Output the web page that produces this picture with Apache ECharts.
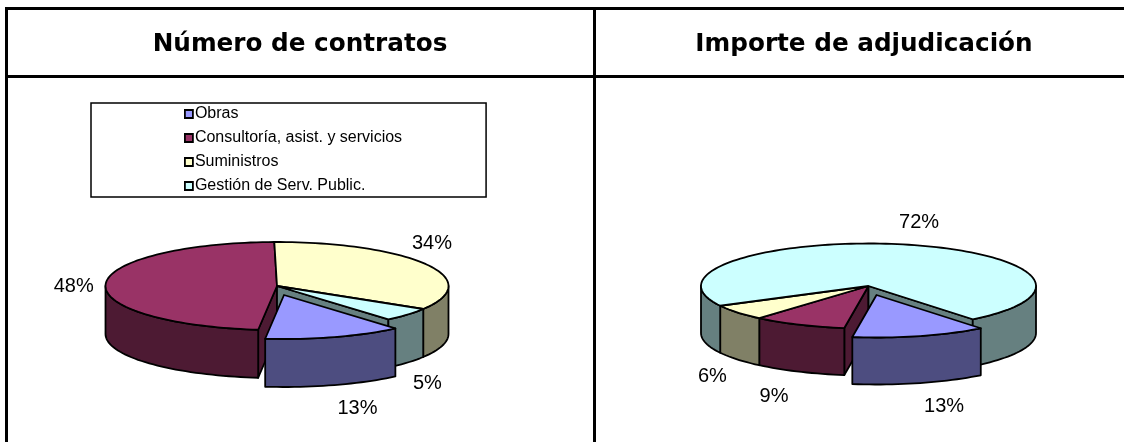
<!DOCTYPE html>
<html>
<head>
<meta charset="utf-8">
<style>html,body{margin:0;padding:0;background:#fff}#c{width:1124px;height:442px}</style>
<script src="https://cdn.jsdelivr.net/npm/echarts@6/dist/echarts.min.js"></script>
</head>
<body>
<div id="c"></div>
<script>
var categories = ['Obras', 'Consultoría, asist. y servicios', 'Suministros', 'Gestión de Serv. Public.'];
var contractShares = [13, 48, 34, 5];
var amountShares = [13, 9, 6, 72];
var panelTitles = ['Número de contratos', 'Importe de adjudicación'];

var topColors = ['#9999FF', '#993366', '#FFFFCC', '#CCFFFF'];
var sideColors = ['#4D4D80', '#4D1A33', '#808066', '#668080'];

var panelShares = [contractShares, amountShares];
var panelLayouts = [
  { cx: 277, cy: 286, rx: 171.5, ry: 44, depth: 48, start: 139.5, explodeOffset: [7, 9], explodeScale: 1,
    labelNudges: [[23, 71.5], [-32, 3], [6, -21], [20, 69]] },
  { cx: 868.5, cy: 286, rx: 167.5, ry: 42.5, depth: 47, start: 141.5, explodeOffset: [8, 9], explodeScale: 1,
    labelNudges: [[24, 70], [-25, 71.5], [-25, 64], [16, -22]] }
];
var explodedIndex = 0;

function arcPoints(c, a, b, dy) {
  var pts = [], n = Math.max(2, Math.ceil(Math.abs(b - a) / 2));
  for (var i = 0; i <= n; i++) {
    var t = (a + (b - a) * i / n) * Math.PI / 180;
    pts.push([c.x + c.rx * Math.sin(t), c.y - c.ry * Math.cos(t) + dy]);
  }
  return pts;
}

function renderSlice(params, api) {
  var idx = params.seriesIndex, panel = params.dataIndex;
  var shares = panelShares[panel], L = panelLayouts[panel];
  var before = 0;
  for (var i = 0; i < idx; i++) before += shares[i];
  var value = api.value(0);
  var a = L.start + before * 3.6, b = a + value * 3.6;
  var exploded = idx === explodedIndex;
  var s = exploded ? L.explodeScale : 1;
  var c = {
    x: L.cx + (exploded ? L.explodeOffset[0] : 0),
    y: L.cy + (exploded ? L.explodeOffset[1] : 0),
    rx: L.rx * s, ry: L.ry * s
  };
  var base = exploded ? 20 : 0;
  var line = { stroke: '#000', lineWidth: 1.8, lineJoin: 'round' };
  function poly(points, fill, z) {
    return { type: 'polygon', z2: base + z, silent: true, shape: { points: points },
      style: { fill: fill, stroke: line.stroke, lineWidth: line.lineWidth, lineJoin: line.lineJoin } };
  }
  var kids = [];
  // cut walls that the exploded slice lays open
  if (!exploded) {
    var n = shares.length;
    var wallAngles = [];
    if (idx === (explodedIndex + 1) % n) wallAngles.push(a);
    if (idx === (explodedIndex + n - 1) % n) wallAngles.push(b);
    wallAngles.forEach(function (w) {
      var e = arcPoints(c, w, w, 0)[0];
      kids.push(poly([[c.x, c.y], e, [e[0], e[1] + L.depth], [c.x, c.y + L.depth]], sideColors[idx], 1));
    });
  }
  // outer rim, front half only
  for (var k = -1; k <= 1; k++) {
    var lo = Math.max(a, 90 + 360 * k), hi = Math.min(b, 270 + 360 * k);
    if (hi > lo) {
      var top = arcPoints(c, lo, hi, 0), bot = arcPoints(c, hi, lo, L.depth);
      kids.push(poly(top.concat(bot), sideColors[idx], 2));
    }
  }
  // top face
  kids.push(poly([[c.x, c.y]].concat(arcPoints(c, a, b, 0)), topColors[idx], 3));
  // percent label
  var mid = arcPoints(c, (a + b) / 2, (a + b) / 2, 0)[0];
  kids.push({
    type: 'text', z2: 60, silent: true,
    style: {
      text: value + '%', x: mid[0] + L.labelNudges[idx][0], y: mid[1] + L.labelNudges[idx][1],
      fill: '#000', font: '20px "Liberation Sans", Arial, sans-serif', align: 'center', verticalAlign: 'middle'
    }
  });
  return { type: 'group', children: kids };
}

var series = categories.map(function (name, i) {
  return {
    type: 'custom', name: name, coordinateSystem: 'none', silent: true,
    itemStyle: { color: topColors[i] },
    renderItem: renderSlice,
    data: [[contractShares[i]], [amountShares[i]]]
  };
});

var titleFont = { fontFamily: '"DejaVu Sans", Verdana, sans-serif', fontWeight: 'bold', fontSize: 24.7, color: '#000' };
var rule = { stroke: '#000', lineWidth: 3 };

var chart = echarts.init(document.getElementById('c'), null, { renderer: 'canvas' });
chart.setOption({
  animation: false,
  backgroundColor: '#fff',
  title: [
    { text: panelTitles[0], left: 295, top: 27, textAlign: 'center', textStyle: titleFont },
    { text: panelTitles[1], left: 859, top: 27, textAlign: 'center', textStyle: titleFont }
  ],
  legend: {
    data: categories, orient: 'vertical', left: 91, top: 103, icon: 'rect',
    itemWidth: 8, itemHeight: 8, itemGap: 4,
    padding: [1, 84, 1, 93],
    borderColor: '#000', borderWidth: 1.5, selectedMode: false,
    itemStyle: { borderColor: '#000', borderWidth: 1.8 },
    textStyle: { fontFamily: '"Liberation Sans", Arial, sans-serif', fontSize: 16, color: '#000', padding: [5, 0, 0, -3], lineHeight: 15 }
  },
  graphic: [
    { type: 'line', silent: true, shape: { x1: 6.5, y1: 7, x2: 6.5, y2: 442 }, style: rule },
    { type: 'line', silent: true, shape: { x1: 5, y1: 8.5, x2: 1124, y2: 8.5 }, style: rule },
    { type: 'line', silent: true, shape: { x1: 5, y1: 76.5, x2: 1124, y2: 76.5 }, style: rule },
    { type: 'line', silent: true, shape: { x1: 594.5, y1: 7, x2: 594.5, y2: 442 }, style: rule }
  ],
  series: series
});
</script>
</body>
</html>
